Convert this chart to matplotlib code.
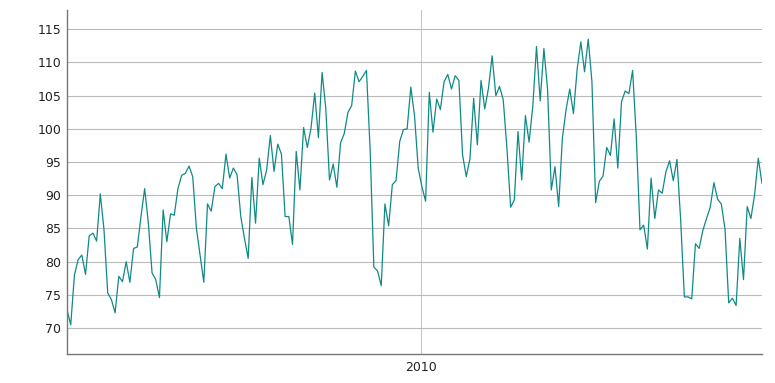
import pandas as pd
import matplotlib
matplotlib.use('Agg')
import matplotlib.pyplot as plt

# weekly values
values = [72.75, 70.5, 78.0, 80.3, 81.0, 78.1, 83.9, 84.3, 83.1, 90.2,
          84.8, 75.3, 74.3, 72.3, 77.8, 77.0, 80.0, 76.9, 82.0, 82.2,
          86.8, 91.0, 85.8, 78.3, 77.3, 74.6, 87.8, 83.0, 87.2, 87.0,
          91.0, 93.0, 93.3, 94.4, 92.8, 85.0, 81.0, 76.9, 88.7, 87.6,
          91.3, 91.8, 91.0, 96.2, 92.6, 94.1, 93.1, 86.8, 83.5, 80.5,
          92.7, 85.8, 95.6, 91.6, 93.8, 99.0, 93.6, 97.7, 96.2, 86.8,
          86.8, 82.6, 96.6, 90.8, 100.2, 97.2, 100.1, 105.4, 98.7, 108.5,
          103.1, 92.3, 94.7, 91.2, 97.9, 99.3, 102.5, 103.5, 108.7, 107.1,
          107.9, 108.8, 96.8, 79.2, 78.6, 76.4, 88.7, 85.4, 91.6, 92.2,
          98.1, 99.9, 100.0, 106.3, 102.0, 94.1, 91.3, 89.1, 105.5, 99.5,
          104.5, 102.9, 107.1, 108.2, 106.0, 108.0, 107.3, 96.1, 92.8, 95.5,
          104.6, 97.6, 107.3, 103.0, 106.1, 111.0, 105.0, 106.4, 104.4, 97.1,
          88.2, 89.3, 99.6, 92.3, 102.0, 98.0, 103.4, 112.4, 104.2, 112.1,
          105.9, 90.8, 94.3, 88.3, 98.6, 102.9, 106.0, 102.3, 109.0, 113.1,
          108.6, 113.5, 107.1, 88.9, 92.1, 92.9, 97.2, 96.0, 101.5, 94.1,
          104.1, 105.7, 105.3, 108.8, 98.8, 84.8, 85.5, 81.9, 92.6, 86.5,
          90.8, 90.3, 93.5, 95.2, 92.2, 95.4, 86.3, 74.7, 74.7, 74.4,
          82.7, 82.0, 84.7, 86.5, 88.2, 91.9, 89.4, 88.7, 84.9, 73.8,
          74.5, 73.4, 83.5, 77.3, 88.3, 86.5, 90.1, 95.6, 91.8]
dates = pd.date_range('2008-03-02', periods=len(values), freq='W')
yticks = [70, 75, 80, 85, 90, 95, 100, 105, 110, 115]
xtick_dates = [pd.Timestamp('2010-01-01')]
xtick_labels = ['2010']

fig = plt.figure(figsize=(7.75, 3.83), dpi=100)
ax = fig.add_axes([0.0865, 0.0757, 0.8967, 0.8982])

ax.plot(dates, values, color='#0f8a86', linewidth=0.9)

ax.set_xlim(dates[0], dates[-1])
ax.set_ylim(66.1, 117.9)
ax.set_yticks(yticks)
ax.set_xticks(xtick_dates)
ax.set_xticklabels(xtick_labels)

ax.grid(axis='y', color='#bbbbbb', linewidth=0.8)
ax.grid(axis='x', color='#c8c8c8', linewidth=0.8)
ax.set_axisbelow(True)

for s in ['top', 'right']:
    ax.spines[s].set_visible(False)
for s in ['left', 'bottom']:
    ax.spines[s].set_color('#777777')
    ax.spines[s].set_linewidth(1.0)

ax.tick_params(axis='both', length=0, labelsize=9, colors='#222222')
ax.tick_params(axis='y', pad=4)
ax.tick_params(axis='x', pad=5)

fig.savefig('out.png', dpi=100)
